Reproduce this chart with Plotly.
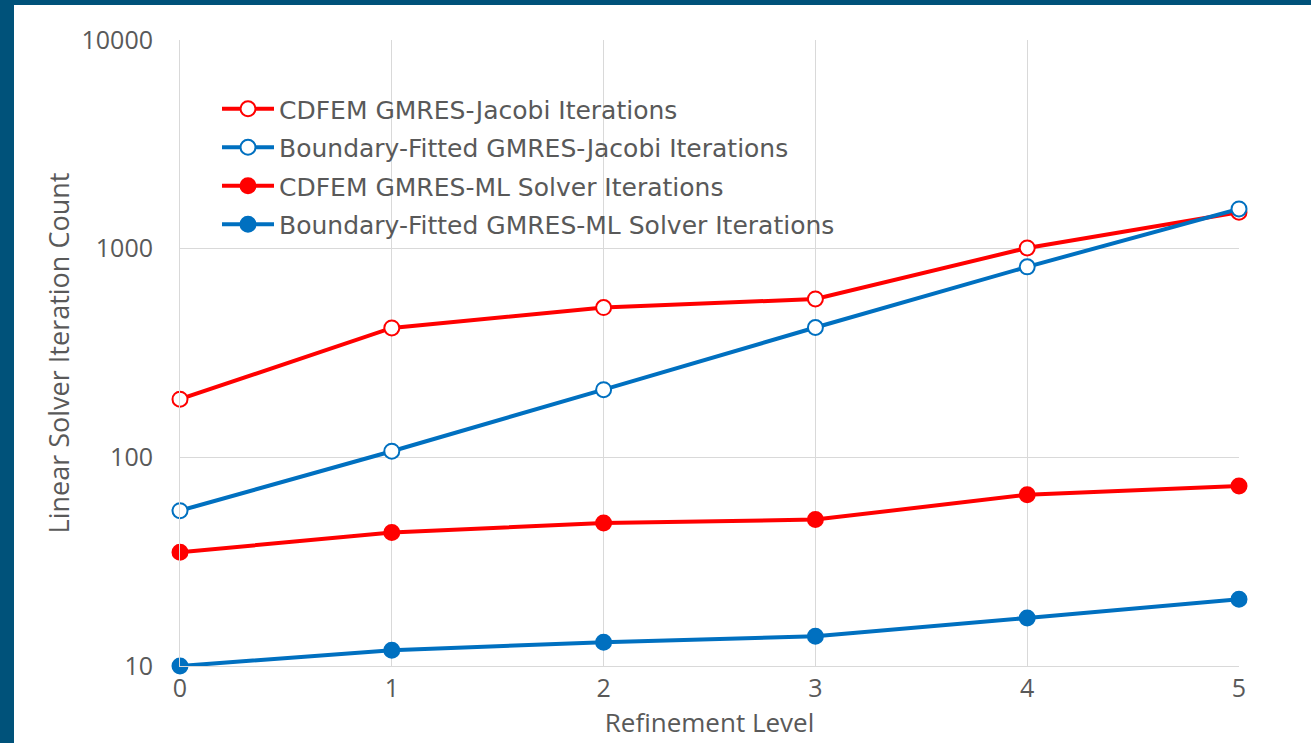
import plotly.graph_objects as go

levels = [0, 1, 2, 3, 4, 5]
cdfem_jacobi = [190, 417, 522, 574, 1008, 1496]
bf_jacobi = [55.5, 107, 211, 419, 818, 1551]
cdfem_ml = [35.1, 43.6, 48.5, 50.3, 66.2, 72.8]
bf_ml = [10, 11.9, 13.0, 13.9, 17.0, 20.9]

names = [
    "CDFEM GMRES-Jacobi Iterations",
    "Boundary-Fitted GMRES-Jacobi Iterations",
    "CDFEM GMRES-ML Solver Iterations",
    "Boundary-Fitted GMRES-ML Solver Iterations",
]
y_ticks = [10, 100, 1000, 10000]
y_tick_text = ["10", "100", "1000", "10000"]

RED = "#FF0000"
BLUE = "#0070C0"
TEAL = "#00527A"
GRID = "#D9D9D9"
TXT = "#595959"

W, H = 1311, 743
L, R, T, B = 180, 72, 40, 77
pw, ph = W - L - R, H - T - B


def px_x(p):
    return (p - L) / pw


def px_y(p):
    return (H - B - p) / ph


fig = go.Figure()
series = [
    (cdfem_jacobi, RED, True),
    (bf_jacobi, BLUE, True),
    (cdfem_ml, RED, False),
    (bf_ml, BLUE, False),
]
for i, (vals, col, hollow) in enumerate(series):
    fig.add_trace(go.Scatter(
        x=levels, y=vals, name=names[i], mode="lines+markers",
        legendgroup=f"g{i}",
        line=dict(color=col, width=4),
        marker=dict(size=15, color="white" if hollow else col,
                    line=dict(color=col, width=2)),
        cliponaxis=False,
    ))

shapes = [
    dict(type="rect", xref="paper", yref="paper",
         x0=px_x(0), x1=px_x(14), y0=px_y(H), y1=px_y(0),
         fillcolor=TEAL, line=dict(width=0), layer="above"),
    dict(type="rect", xref="paper", yref="paper",
         x0=px_x(0), x1=px_x(W), y0=px_y(5), y1=px_y(0),
         fillcolor=TEAL, line=dict(width=0), layer="above"),
]

fig.update_layout(
    width=W, height=H,
    margin=dict(l=L, r=R, t=T, b=B, pad=0),
    paper_bgcolor="white", plot_bgcolor="white",
    font=dict(family="Open Sans, sans-serif", color=TXT, size=24),
    shapes=shapes,
    showlegend=True,
    legend=dict(
        x=px_x(217), y=px_y(86), xanchor="left", yanchor="top",
        bgcolor="rgba(0,0,0,0)",
        font=dict(family="DejaVu Sans", size=25, color=TXT),
        traceorder="grouped", tracegroupgap=3,
        itemwidth=52,
    ),
    xaxis=dict(
        range=[0, 5], tickvals=levels, showgrid=True, gridcolor=GRID,
        gridwidth=1, zeroline=False, showline=True, linecolor=GRID,
        ticks="", tickfont=dict(size=25, color=TXT),
        title=dict(text="Refinement Level", font=dict(size=26, color=TXT),
                   standoff=2),
    ),
    yaxis=dict(
        type="log", range=[1, 4], tickvals=y_ticks, ticktext=y_tick_text,
        showgrid=True, gridcolor=GRID, gridwidth=1, zeroline=False,
        showline=True, linecolor=GRID, ticks="", ticklabelstandoff=21,
        tickfont=dict(size=25, color=TXT),
        title=dict(text="Linear Solver Iteration Count",
                   font=dict(size=27, color=TXT), standoff=4),
    ),
)

fig.write_html("out.html", config={"displayModeBar": False},
               post_script="document.body.style.margin='0';")
